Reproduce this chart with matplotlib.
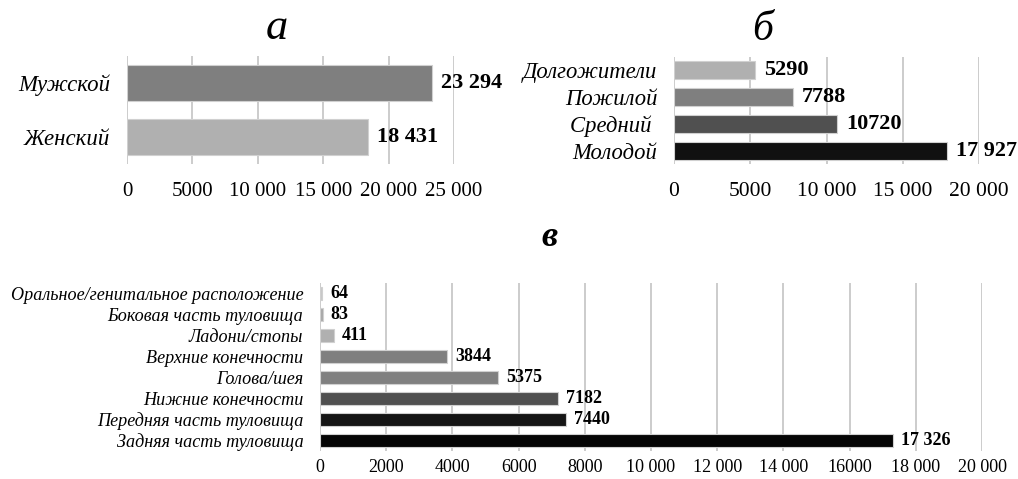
import matplotlib
matplotlib.use("Agg")
import matplotlib.pyplot as plt

plt.rcParams["font.family"] = ["Liberation Serif", "DejaVu Serif"]

# panel а: sex
sex_labels = ["Мужской", "Женский"]
sex_values = [23294, 18431]
sex_value_text = ["23 294", "18 431"]
sex_colors = ["#7f7f7f", "#b0b0b0"]
sex_ticks = [0, 5000, 10000, 15000, 20000, 25000]
sex_tick_labels = ["0", "5000", "10 000", "15 000", "20 000", "25 000"]

# panel б: age group
age_labels = ["Долгожители", "Пожилой", "Средний ", "Молодой"]
age_values = [5290, 7788, 10720, 17927]
age_value_text = ["5290", "7788", "10720", "17 927"]
age_colors = ["#b0b0b0", "#7f7f7f", "#505050", "#111111"]
age_ticks = [0, 5000, 10000, 15000, 20000]
age_tick_labels = ["0", "5000", "10 000", "15 000", "20 000"]

# panel в: localisation
loc_labels = [
    "Оральное/генитальное расположение",
    "Боковая часть туловища",
    "Ладони/стопы",
    "Верхние конечности",
    "Голова/шея",
    "Нижние конечности",
    "Передняя часть туловища",
    "Задняя часть туловища",
]
loc_values = [64, 83, 411, 3844, 5375, 7182, 7440, 17326]
loc_value_text = ["64", "83", "411", "3844", "5375", "7182", "7440", "17 326"]
loc_colors = ["#c8c8c8", "#a8a8a8", "#b0b0b0", "#7f7f7f", "#808080",
              "#505050", "#151515", "#050505"]
loc_ticks = list(range(0, 20001, 2000))
loc_tick_labels = ["0", "2000", "4000", "6000", "8000", "10 000", "12 000",
                   "14 000", "16000", "18 000", "20 000"]

W, H = 1018, 479


def panel(rect, labels, values, texts, colors, ticks, tick_labels, xmax,
          bar_h, cat_size, tick_size, val_size, tick_pad, val_off):
    l, t, r, b = rect
    ax = plt.gcf().add_axes([l / W, 1 - b / H, (r - l) / W, (b - t) / H])
    y = list(range(len(labels)))
    ax.barh(y, values, height=bar_h, color=colors, edgecolor="#d0d0d0",
            linewidth=0.8, zorder=3)
    ax.set_xlim(0, xmax)
    ax.set_ylim(len(labels) - 0.5, -0.5)
    ax.set_yticks(y)
    ax.set_yticklabels(labels, fontsize=cat_size, style="italic")
    ax.set_xticks(ticks)
    ax.set_xticklabels(tick_labels, fontsize=tick_size)
    ax.tick_params(axis="both", length=0)
    ax.tick_params(axis="y", pad=12)
    ax.tick_params(axis="x", pad=tick_pad)
    ax.grid(axis="x", color="#c8c8c8", linewidth=1.3, zorder=0)
    for s in ax.spines.values():
        s.set_visible(False)
    for yi, v, txt in zip(y, values, texts):
        ax.annotate(txt, xy=(v, yi), xytext=(val_off, 0),
                    textcoords="offset pixels", ha="left", va="center",
                    fontsize=val_size, fontweight="bold", zorder=4)
    return ax


fig = plt.figure(figsize=(W / 100, H / 100), dpi=100)

panel((127, 56, 454, 164), sex_labels, sex_values, sex_value_text, sex_colors,
      sex_ticks, sex_tick_labels, 25000, 0.67, 16.5, 15, 16, 13, 9)
panel((674, 57, 979, 164), age_labels, age_values, age_value_text, age_colors,
      age_ticks, age_tick_labels, 20000, 0.68, 16.3, 15.5, 16, 13, 9)
panel((320, 283, 982, 451), loc_labels, loc_values, loc_value_text, loc_colors,
      loc_ticks, loc_tick_labels, 20000, 0.63, 13.1, 13, 13, 6, 8)

fig.text(277 / W, 1 - 28 / H, "а", ha="center", va="center", fontsize=32,
         style="italic")
fig.text(763 / W, 1 - 30 / H, "б", ha="center", va="center", fontsize=30,
         style="italic")
fig.text(550 / W, 1 - 237 / H, "в", ha="center", va="center", fontsize=26,
         style="italic", fontweight="bold")

fig.savefig("out.png", dpi=100)
